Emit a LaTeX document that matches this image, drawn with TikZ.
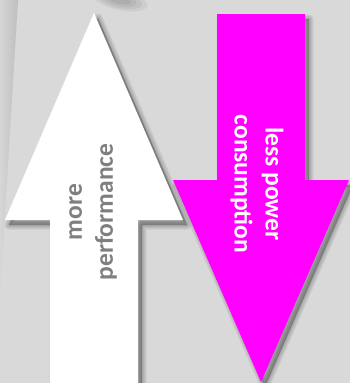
\documentclass[tikz,border=0pt]{standalone}
\usepackage{fontspec}
\setmainfont{Carlito}
\definecolor{bggray}{RGB}{217,217,217}
\definecolor{txtgray}{RGB}{127,127,127}
\definecolor{magentaarrow}{RGB}{255,0,255}
\definecolor{stripa}{RGB}{214,214,214}
\definecolor{stripb}{RGB}{190,190,190}
\tikzset{
  arrowlabel/.style={align=center, font=\fontsize{25.5}{31}\selectfont\bfseries, inner sep=0pt},
  shadowlayer/.style={fill=black, draw=black, opacity=0.07, line join=round}
}
\newcommand{\whiteshape}{(94,13)--(183,220)--(138,220)--(138,395)--(50,395)--(50,220)--(5,220)--cycle}
\newcommand{\magshape}{(217,14)--(305,14)--(305,180)--(349,180)--(261,382)--(173,180)--(217,180)--cycle}
\begin{document}
\begin{tikzpicture}[x=1pt,y=-1pt]
\useasboundingbox (0,0) rectangle (350,383);
\fill[bggray] (0,0) rectangle (350,383);
% left strip
\shade[left color=stripa, right color=stripb] (0,0)--(18,0)--(0,295)--cycle;
% top blurred shadow
\foreach \r in {1.0,0.8,0.6,0.4}
  \fill[black, opacity=0.05, rotate around={-12:(120,0)}] (120,0) ellipse ({28*\r} and {10*\r});
% white arrow shadow
\begin{scope}[shift={(4,5)}]
  \foreach \w in {9,6,3,0.5}
    \filldraw[shadowlayer, line width=\w pt] \whiteshape;
\end{scope}
\fill[white] \whiteshape;
% magenta arrow shadow
\begin{scope}[shift={(4,5)}]
  \foreach \w in {9,6,3,0.5}
    \filldraw[shadowlayer, line width=\w pt] \magshape;
\end{scope}
\fill[magentaarrow] \magshape;
% labels
\node[arrowlabel, rotate=90, text=txtgray] (perf) at (93,212) {more\\performance};
\node[arrowlabel, rotate=-90, text=white] (power) at (257,184) {less power\\consumption};
\end{tikzpicture}
\end{document}
